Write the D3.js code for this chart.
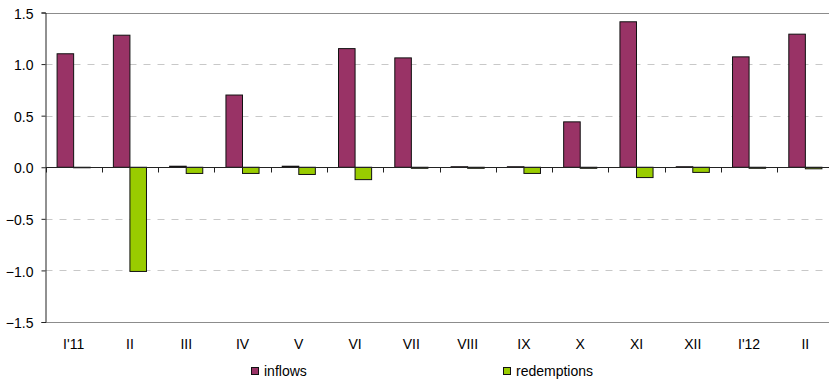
<!DOCTYPE html>
<html>
<head>
<meta charset="utf-8">
<script src="https://cdn.jsdelivr.net/npm/d3@7/dist/d3.min.js"></script>
<style>
  html, body { margin: 0; padding: 0; background: #fff; }
  svg { display: block; font-family: "Liberation Sans", Arial, sans-serif; }
</style>
</head>
<body>
<svg id="chart" width="829" height="383"></svg>
<script>
// Monthly flows (inflows vs redemptions)
const categories = ["I'11", "II", "III", "IV", "V", "VI", "VII", "VIII", "IX", "X", "XI", "XII", "I'12", "II"];
const inflows     = [1.10, 1.28, 0.01, 0.70, 0.01, 1.15, 1.06, 0.005, 0.005, 0.44, 1.41, 0.005, 1.07, 1.29];
const redemptions = [-0.005, -1.01, -0.06, -0.06, -0.07, -0.12, -0.01, -0.01, -0.06, -0.01, -0.10, -0.05, -0.01, -0.015];
const seriesNames = ["inflows", "redemptions"];
const yTicks = [-1.5, -1.0, -0.5, 0.0, 0.5, 1.0, 1.5];

const colors = { inflows: "#993366", redemptions: "#99CC00" };
const fontSize = "14px";

const svg = d3.select("#chart");
const plotLeft = 45.5, plotRight = 833.5, plotTop = 12.5, plotBottom = 322;

const x = d3.scaleBand()
  .domain(d3.range(categories.length))
  .range([plotLeft, plotRight])
  .paddingInner(0).paddingOuter(0);

// bars sit in the middle of each category with gaps on both sides
const gapRatio = 1.4;
const barW = x.bandwidth() / (2 + gapRatio);

const y = d3.scaleLinear().domain([-1.5, 1.5]).range([plotBottom, plotTop]);

// gridlines
svg.append("g")
  .selectAll("line")
  .data(yTicks.filter(v => v !== 0 && Math.abs(v) !== 1.5))
  .join("line")
  .attr("x1", plotLeft).attr("x2", 829)
  .attr("y1", d => Math.round(y(d)) + 0.5).attr("y2", d => Math.round(y(d)) + 0.5)
  .attr("stroke", "#c8c8c8")
  .attr("stroke-width", 1)
  .attr("stroke-dasharray", "7,7");

// top and bottom frame lines
svg.append("g")
  .selectAll("line")
  .data([1.5, -1.5])
  .join("line")
  .attr("x1", plotLeft).attr("x2", 829)
  .attr("y1", d => Math.round(y(d)) + 0.5).attr("y2", d => Math.round(y(d)) + 0.5)
  .attr("stroke", "#8c8c8c")
  .attr("stroke-width", 1);

// bars
const rows = categories.map((c, i) => ({ i, inflows: inflows[i], redemptions: redemptions[i] }));
const groups = svg.append("g").selectAll("g")
  .data(rows)
  .join("g");

seriesNames.forEach((name, k) => {
  groups.append("rect")
    .attr("x", d => x(d.i) + x.bandwidth() / 2 - barW + k * barW)
    .attr("y", d => Math.min(y(d[name]), y(0)))
    .attr("width", barW)
    .attr("height", d => Math.max(Math.abs(y(d[name]) - y(0)), 0.5))
    .attr("fill", colors[name])
    .attr("stroke", "#111")
    .attr("stroke-width", 1);
});

// y axis
const yAxis = d3.axisLeft(y)
  .tickValues(yTicks)
  .tickSize(4)
  .tickFormat(d3.format(".1f"));
const yg = svg.append("g")
  .attr("transform", `translate(${plotLeft},0)`)
  .call(yAxis);
yg.select(".domain").attr("stroke", "#222");
yg.selectAll(".tick line").attr("stroke", "#222");
yg.selectAll(".tick text")
  .attr("x", -12)
  .attr("dy", "0.4em")
  .attr("fill", "#000")
  .style("font-size", fontSize)
  .style("font-family", "Liberation Sans, Arial, sans-serif");

// zero axis with category ticks
const zy = Math.round(y(0)) + 0.5;
svg.append("line")
  .attr("x1", plotLeft).attr("x2", 829)
  .attr("y1", zy).attr("y2", zy)
  .attr("stroke", "#222");
svg.append("g")
  .selectAll("line")
  .data(d3.range(categories.length + 1))
  .join("line")
  .attr("x1", i => Math.round(plotLeft + i * x.bandwidth()) + 0.5)
  .attr("x2", i => Math.round(plotLeft + i * x.bandwidth()) + 0.5)
  .attr("y1", zy).attr("y2", zy + 5)
  .attr("stroke", "#222");

// category labels
svg.append("g")
  .selectAll("text")
  .data(categories)
  .join("text")
  .attr("x", (d, i) => x(i) + x.bandwidth() / 2)
  .attr("y", 349)
  .attr("text-anchor", "middle")
  .style("font-size", fontSize)
  .text(d => d);

// legend
const legendPos = [{ name: "inflows", x: 251 }, { name: "redemptions", x: 503 }];
const lg = svg.append("g").selectAll("g")
  .data(legendPos)
  .join("g")
  .attr("transform", d => `translate(${d.x},0)`);
lg.append("rect")
  .attr("x", 0.5).attr("y", 367.5)
  .attr("width", 7).attr("height", 7)
  .attr("fill", d => colors[d.name])
  .attr("stroke", "#111");
lg.append("text")
  .attr("x", 13)
  .attr("y", 376)
  .style("font-size", fontSize)
  .text(d => d.name);
</script>
</body>
</html>
